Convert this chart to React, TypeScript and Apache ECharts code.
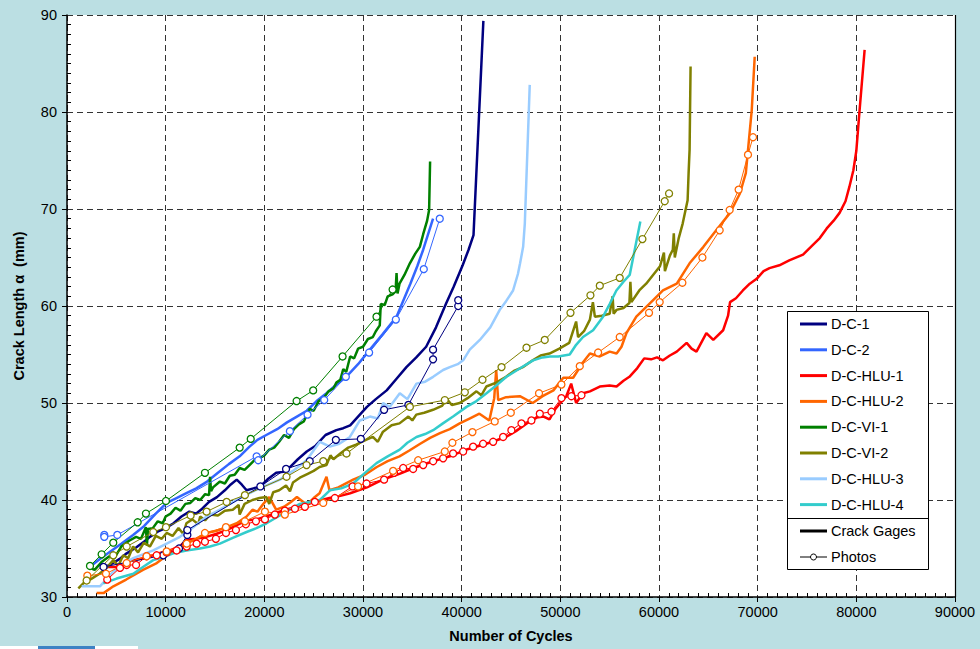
import React, { useEffect, useRef } from "react";
import * as echarts from "echarts";

// ---- Data (cycles, crack length mm) ----
const xTicks = [0, 10000, 20000, 30000, 40000, 50000, 60000, 70000, 80000, 90000];
const yTicks = [30, 40, 50, 60, 70, 80, 90];

const specimenNames = ["D-C-1", "D-C-2", "D-C-HLU-1", "D-C-HLU-2", "D-C-VI-1", "D-C-VI-2", "D-C-HLU-3", "D-C-HLU-4"];
const specimenColors = ["#000080", "#3366FF", "#FF0000", "#FF6600", "#008000", "#808000", "#99CCFF", "#33CCCC"];

const dc1Gage = [[3700,33.0],[4500,33.4],[5300,33.9],[6050,34.5],[7000,35.1],[7800,35.7],[8400,36.2],[9300,36.8],[10000,37.1],[10800,37.6],[11600,38.3],[12400,38.8],[13100,38.6],[13700,39.1],[14400,39.8],[15200,40.3],[16000,41.0],[16600,41.6],[17200,42.1],[17700,41.6],[18200,41.0],[18900,41.2],[19600,41.4],[20400,42.2],[21200,42.8],[21900,42.9],[22600,43.4],[23400,44.2],[24300,45.0],[25200,45.6],[26200,46.7],[27300,47.2],[28000,47.4],[28700,47.7],[29500,48.6],[30400,49.6],[31300,50.4],[32400,51.3],[33400,52.5],[34400,53.7],[35400,54.7],[36400,55.8],[37400,57.8],[38400,60.2],[39200,62.0],[40100,64.2],[40700,65.8],[41200,67.3],[42200,89.4]];
const dc1Photo = [[3700,33.1],[9760,34.3],[11350,35.0],[12200,36.4],[12200,36.9],[19600,41.4],[22200,43.2],[24600,44.0],[27250,46.2],[29780,46.3],[32140,49.3],[34600,49.8],[37100,54.5],[37100,55.5],[39650,60.0],[39650,60.6]];

const dc2Gage = [[2300,33.1],[3300,33.9],[4400,34.7],[5500,35.5],[6700,36.4],[7800,37.3],[9000,38.6],[10100,39.7],[11100,40.2],[12100,40.7],[13100,41.2],[14200,41.9],[15300,42.8],[16400,43.7],[17500,44.5],[18500,45.5],[19300,46.2],[20200,46.7],[21300,47.3],[22300,48.0],[23300,48.6],[24300,49.2],[25300,50.2],[26300,51.0],[27200,51.8],[28300,52.7],[29500,54.0],[30700,55.5],[32000,57.1],[33400,58.9],[34100,60.6],[34800,62.3],[35500,64.1],[36100,65.8],[36600,67.4],[37100,69.0]];
const dc2Photo = [[3780,36.4],[3780,36.2],[5100,36.4],[19220,44.5],[19380,44.1],[22590,47.1],[24380,48.8],[26070,50.3],[28260,52.7],[30620,55.2],[33330,58.6],[36160,63.8],[37780,69.0]];

const hlu1Gage = [[3700,33.1],[5000,33.1],[6700,33.8],[7700,34.0],[8700,34.3],[9600,34.6],[10400,34.8],[11400,35.2],[12100,35.9],[13100,36.0],[14100,36.2],[15100,36.5],[16200,36.9],[17200,37.4],[18200,37.9],[19200,38.0],[20200,38.3],[21200,38.7],[22200,39.0],[23200,39.3],[24300,39.7],[25400,39.9],[26600,40.2],[27600,40.4],[28700,40.7],[30400,41.3],[32000,42.1],[33700,42.7],[35400,43.4],[37100,44.0],[38800,44.5],[40500,45.2],[42500,45.8],[44500,46.5],[45500,47.1],[46600,47.9],[47600,48.5],[48300,48.6],[48900,48.3],[49500,49.4],[50000,50.0],[50600,50.7],[51100,52.0],[51600,50.0],[52300,51.0],[53000,51.2],[54000,51.7],[55000,51.8],[55700,51.7],[56400,52.3],[57000,52.7],[57800,53.6],[58500,54.6],[59200,54.5],[59800,54.7],[60400,54.4],[61100,54.9],[61800,55.3],[62800,56.2],[63300,55.6],[63800,55.3],[64800,57.2],[65500,56.5],[66500,57.5],[67000,59.0],[67200,60.4],[67800,60.8],[68500,61.6],[69200,62.3],[69900,62.8],[70600,63.6],[71200,63.9],[72200,64.2],[73200,64.7],[74600,65.3],[75600,66.3],[76300,67.0],[77000,68.0],[77700,68.8],[78300,69.6],[78900,70.8],[79300,72.3],[79700,74.0],[80000,76.0],[80330,80.2],[80840,86.4]];
const hlu1Photo = [[4080,31.8],[5370,33.0],[6050,33.3],[7000,33.3],[8070,34.2],[9090,34.3],[10100,34.6],[11110,34.8],[12130,35.2],[13140,35.5],[13980,35.7],[15090,36.0],[16110,36.6],[17120,36.9],[18130,37.5],[19150,37.8],[20060,38.0],[21070,38.5],[22080,38.9],[23100,39.1],[24110,39.3],[25120,39.8],[27150,40.2],[28940,41.4],[30360,41.7],[32140,42.1],[33150,42.8],[34070,43.3],[35080,43.2],[36100,43.6],[37110,44.0],[38120,44.3],[39130,44.8],[40150,45.0],[41160,45.5],[42170,45.8],[43190,46.0],[44200,46.5],[45040,47.2],[46060,47.9],[47070,48.2],[47920,48.9],[49100,49.1],[50110,50.5],[51120,50.7],[52140,50.8]];

const hlu2Gage = [[3000,30.4],[3700,30.4],[4700,31.1],[6000,31.8],[7700,32.8],[9100,33.5],[10400,34.5],[11300,34.8],[12100,35.5],[13100,36.0],[14100,36.6],[15100,36.8],[16200,37.2],[17200,37.6],[18200,38.3],[18800,39.0],[19300,38.8],[19900,39.6],[20500,40.3],[21200,39.0],[22000,39.3],[22700,39.8],[23300,40.3],[24300,39.5],[25000,40.2],[25600,40.7],[26300,42.4],[26600,41.0],[27500,41.3],[29000,42.1],[30200,42.6],[31400,43.4],[32500,44.0],[33700,44.5],[34700,45.1],[35800,45.8],[36800,46.4],[37800,46.9],[38800,47.3],[39800,47.9],[40800,48.4],[41800,48.9],[42800,48.2],[43300,50.5],[43500,53.4],[43700,50.3],[44500,50.6],[45900,50.7],[47200,50.0],[48200,50.7],[49300,51.3],[50300,52.6],[51300,52.6],[52300,54.2],[53000,55.1],[54000,54.8],[55000,55.3],[55700,55.1],[56200,55.8],[56700,57.2],[57700,58.9],[59100,60.3],[60400,61.6],[61800,62.3],[63100,64.4],[64500,66.1],[65800,67.8],[67200,69.6],[68200,71.6],[68800,73.7],[69400,80.2],[69700,85.7]];
const hlu2Photo = [[2060,32.2],[3950,32.4],[6050,33.5],[8070,34.2],[10100,34.7],[12130,35.5],[13980,36.6],[16110,37.2],[18030,37.8],[20060,38.8],[22080,38.5],[25970,39.7],[29500,41.4],[33050,43.0],[35590,44.1],[38290,45.0],[39060,45.9],[41090,47.0],[43350,48.1],[44980,49.0],[47840,51.0],[50110,51.9],[51970,53.8],[53830,55.2],[56020,56.8],[58990,59.3],[60070,60.4],[62370,62.4],[64400,65.0],[66150,67.8],[67160,69.9],[68070,72.0],[69020,75.6],[69530,77.4]];

const vi1Gage = [[2300,33.0],[2800,32.8],[3500,33.6],[4300,34.2],[4800,34.0],[5500,35.2],[6300,35.8],[7000,36.2],[7500,36.0],[8000,37.2],[8100,35.3],[8200,37.0],[8700,37.1],[9200,37.8],[9700,37.6],[10000,38.3],[10500,38.6],[11000,39.2],[11500,38.9],[12000,39.6],[12500,39.7],[13000,40.2],[13500,40.0],[14000,40.6],[14400,40.5],[14500,42.4],[14600,40.9],[14800,41.3],[15500,41.9],[16000,41.7],[16500,42.5],[17000,42.6],[17500,43.3],[18000,43.1],[18500,43.6],[19000,44.1],[19500,44.3],[20000,44.6],[20500,45.2],[21000,45.4],[21500,46.0],[22000,46.7],[22500,46.4],[23000,47.3],[23500,47.8],[24000,48.1],[24600,49.4],[25000,49.2],[25500,50.2],[26000,50.5],[26500,51.2],[27000,51.5],[27300,52.1],[27700,52.4],[28000,53.5],[28300,53.2],[28700,54.8],[29100,54.6],[29500,55.6],[30000,55.8],[30500,56.6],[31000,56.8],[31300,57.4],[31700,58.0],[31800,60.2],[32200,60.1],[32500,61.0],[33000,61.2],[33300,61.5],[33400,63.4],[33500,61.3],[33700,62.3],[34200,63.2],[34750,64.4],[35300,65.4],[35760,66.1],[36100,67.4],[36500,68.8],[36700,69.9],[36800,74.9]];
const vi1Photo = [[2330,33.2],[3510,34.4],[4690,35.6],[7160,37.7],[8000,38.6],[10030,39.9],[13980,42.8],[17500,45.4],[18620,46.3],[23270,50.2],[24950,51.3],[27930,54.8],[31370,58.9],[33000,61.7]];

const vi2Gage = [[1150,30.9],[1650,31.4],[2500,31.9],[3300,32.4],[4000,33.0],[4700,33.8],[5200,33.2],[5700,34.3],[6200,34.0],[6700,35.2],[7200,34.6],[7800,35.6],[8400,35.2],[9000,36.3],[9600,36.0],[10100,36.6],[10700,36.3],[11300,37.1],[11800,36.5],[12100,37.6],[12700,38.0],[13300,37.5],[13500,38.3],[14000,37.9],[14500,38.5],[15300,38.4],[16000,38.9],[16800,39.0],[17400,39.5],[17500,38.5],[18000,39.6],[18800,40.0],[19500,40.2],[20200,40.3],[20500,39.6],[20900,40.8],[21500,41.0],[22200,41.5],[22600,40.9],[22900,41.8],[23600,42.3],[24400,42.7],[25000,43.0],[25600,43.4],[26300,43.6],[26700,44.6],[27000,44.2],[27700,44.8],[28500,45.4],[29300,45.7],[30300,46.2],[31000,46.5],[31500,46.0],[32000,47.0],[32900,47.7],[33700,47.9],[34600,48.6],[35000,48.2],[35400,48.8],[36200,49.0],[37100,49.3],[38000,49.7],[38500,50.4],[39000,49.8],[39800,50.0],[40600,50.5],[41500,51.2],[42000,50.8],[42500,51.7],[43500,52.1],[44500,52.7],[45300,53.3],[46200,53.7],[47200,54.4],[48000,54.9],[48900,55.1],[49900,55.6],[50900,56.2],[51600,58.4],[51800,56.8],[52400,57.4],[53000,58.6],[53300,60.4],[53500,58.9],[54200,59.0],[55000,59.2],[55300,61.0],[55400,59.2],[55700,59.6],[56400,59.8],[57000,60.3],[57100,62.5],[57200,60.4],[58000,61.6],[58700,62.3],[59400,63.2],[60100,64.1],[60500,65.5],[60600,63.6],[61100,65.2],[61400,65.8],[61500,67.5],[61600,65.0],[62000,67.0],[62400,68.5],[62900,70.9],[63000,73.7],[63100,76.1],[63200,84.7]];
const vi2Photo = [[1990,31.7],[4690,34.3],[6050,35.2],[8740,36.7],[10030,37.2],[12530,38.4],[14150,38.8],[16180,39.8],[18030,40.5],[22250,42.4],[24280,43.6],[25970,44.0],[28330,44.8],[34750,49.6],[38290,50.3],[40320,51.1],[42110,52.4],[44040,53.7],[46570,55.7],[48420,56.5],[51030,59.3],[53050,61.1],[54000,62.1],[56020,62.9],[58320,66.9],[60580,70.8],[61020,71.6]];

const hlu3Gage = [[1490,31.1],[3340,31.1],[4670,32.6],[5700,33.4],[6720,34.0],[7700,34.4],[8740,34.8],[10100,35.5],[11450,36.2],[12800,37.2],[14150,38.3],[15500,39.0],[16850,39.8],[17900,40.4],[18870,40.9],[20200,41.5],[21580,42.1],[22900,43.0],[24280,44.1],[25630,46.0],[26640,45.5],[27600,45.8],[28670,46.5],[29680,48.2],[30700,48.6],[31500,48.4],[32040,50.0],[32700,49.6],[33730,51.0],[34500,50.4],[35420,52.0],[36300,52.2],[37110,52.7],[38120,53.4],[38800,53.7],[39600,54.0],[40150,54.4],[40820,55.5],[41840,56.5],[42900,57.8],[43860,59.6],[44500,60.5],[45210,61.6],[45700,63.3],[45920,64.4],[46230,66.1],[46400,68.5],[46900,82.8]];

const hlu4Gage = [[3680,31.4],[5030,31.9],[6720,32.4],[7700,33.1],[8740,33.8],[9700,34.1],[10770,34.5],[12100,34.8],[13470,35.0],[14500,35.2],[15500,35.5],[16800,36.1],[18200,36.7],[19200,37.1],[20230,37.6],[21400,38.3],[22590,39.0],[23600,39.6],[24600,39.8],[25630,40.0],[26640,41.0],[27800,41.2],[29000,41.7],[30200,42.8],[31370,43.8],[32500,44.5],[33730,45.2],[34500,45.9],[35420,46.5],[36300,46.8],[37110,47.2],[38100,47.9],[39130,48.6],[40490,49.6],[41500,50.2],[42520,51.0],[43500,51.8],[44540,52.7],[45800,53.5],[47240,54.4],[48200,54.7],[48930,54.8],[49800,54.8],[50950,55.0],[51600,56.0],[52300,56.8],[53320,57.5],[54330,58.9],[55000,60.2],[55680,61.6],[56400,62.5],[57030,63.2],[57540,65.8],[58110,68.7]];

const gageData = [dc1Gage, dc2Gage, hlu1Gage, hlu2Gage, vi1Gage, vi2Gage, hlu3Gage, hlu4Gage];
const photoData = [dc1Photo, dc2Photo, hlu1Photo, hlu2Photo, vi1Photo, vi2Photo, null, null];
const extraLegend = ["Crack Gages", "Photos"];

const FONT = "'Liberation Sans', Arial, Helvetica, sans-serif";

export default function App() {
  const ref = useRef<HTMLDivElement>(null);
  useEffect(() => {
    document.body.style.margin = "0";
    if (!ref.current) return;
    const chart = echarts.init(ref.current, undefined, { renderer: "svg" });

    const series: any[] = [];
    gageData.forEach((d, i) => {
      series.push({
        name: specimenNames[i],
        type: "line",
        data: d,
        showSymbol: false,
        symbol: "none",
        lineStyle: { color: specimenColors[i], width: 2.5 },
        itemStyle: { color: specimenColors[i] },
        z: 2,
      });
    });
    photoData.forEach((d, i) => {
      if (!d) return;
      series.push({
        name: specimenNames[i] + " Photos",
        type: "line",
        data: d,
        symbol: "circle",
        symbolSize: 7,
        showSymbol: true,
        lineStyle: { color: specimenColors[i], width: 1 },
        itemStyle: { color: "#ffffff", borderColor: specimenColors[i], borderWidth: 1.3 },
        z: 3,
      });
    });

    // legend graphic
    const lx = 787, ly = 311, lw = 141, lh = 258;
    const items: any[] = [
      { type: "rect", shape: { x: lx + 0.5, y: ly + 0.5, width: lw, height: lh }, style: { fill: "#fff", stroke: "#000", lineWidth: 1 }, z: 100 },
      { type: "line", shape: { x1: lx + 0.5, y1: 518.5, x2: lx + lw + 0.5, y2: 518.5 }, style: { stroke: "#000", lineWidth: 1 }, z: 101 },
    ];
    specimenNames.forEach((n, i) => {
      const yy = 324 + i * 25.8;
      items.push({ type: "line", shape: { x1: 800, y1: yy, x2: 827, y2: yy }, style: { stroke: specimenColors[i], lineWidth: 3 }, z: 101 });
      items.push({ type: "text", x: 831, y: yy, style: { text: n, fill: "#000", font: `14.5px ${FONT}`, verticalAlign: "middle" }, z: 101 });
    });
    items.push({ type: "line", shape: { x1: 800, y1: 531, x2: 827, y2: 531 }, style: { stroke: "#000", lineWidth: 3 }, z: 101 });
    items.push({ type: "text", x: 831, y: 531, style: { text: extraLegend[0], fill: "#000", font: `14.5px ${FONT}`, verticalAlign: "middle" }, z: 101 });
    items.push({ type: "line", shape: { x1: 800, y1: 557, x2: 827, y2: 557 }, style: { stroke: "#000", lineWidth: 1 }, z: 101 });
    items.push({ type: "circle", shape: { cx: 813.5, cy: 557, r: 3 }, style: { fill: "#fff", stroke: "#000", lineWidth: 1 }, z: 102 });
    items.push({ type: "text", x: 831, y: 557, style: { text: extraLegend[1], fill: "#000", font: `14.5px ${FONT}`, verticalAlign: "middle" }, z: 101 });
    // right border of plot
    items.push({ type: "line", shape: { x1: 955.5, y1: 15, x2: 955.5, y2: 597 }, style: { stroke: "#000", lineWidth: 1.2 }, z: 50 });
    // bottom-left strip
    items.push({ type: "rect", shape: { x: 0, y: 646, width: 138, height: 3 }, style: { fill: "#fff" }, z: 50 });
    items.push({ type: "rect", shape: { x: 38, y: 646, width: 57, height: 3 }, style: { fill: "#3d82c4" }, z: 51 });

    chart.setOption({
      animation: false,
      backgroundColor: "#bbdfe3",
      textStyle: { fontFamily: FONT },
      grid: { left: 67, right: 25, top: 15, bottom: 52, show: true, backgroundColor: "#ffffff", borderWidth: 0 },
      xAxis: {
        type: "value",
        min: xTicks[0],
        max: xTicks[xTicks.length - 1],
        interval: 10000,
        name: "Number of Cycles",
        nameLocation: "middle",
        nameGap: 31,
        nameTextStyle: { fontWeight: "bold", fontSize: 14.5, color: "#000", fontFamily: FONT },
        axisLine: { show: true, onZero: false, lineStyle: { color: "#000", width: 1.5 } },
        axisTick: { show: true, length: 5, lineStyle: { color: "#000" } },
        minorTick: { show: true, splitNumber: 10, length: -4, lineStyle: { color: "#000" } },
        axisLabel: { color: "#000", fontSize: 14.5, margin: 7, fontFamily: FONT, formatter: (v: number) => String(v) },
        splitLine: { show: true, lineStyle: { color: "#333", type: [6, 4], width: 1 } },
      },
      yAxis: {
        type: "value",
        min: yTicks[0],
        max: yTicks[yTicks.length - 1],
        interval: 10,
        name: "Crack Length α  (mm)",
        nameLocation: "middle",
        nameGap: 41,
        nameTextStyle: { fontWeight: "bold", fontSize: 14.5, color: "#000", fontFamily: FONT },
        axisLine: { show: true, onZero: false, lineStyle: { color: "#000", width: 1.5 } },
        axisTick: { show: true, length: 5, lineStyle: { color: "#000" } },
        minorTick: { show: true, splitNumber: 10, length: -4, lineStyle: { color: "#000" } },
        axisLabel: { color: "#000", fontSize: 14.5, margin: 10, fontFamily: FONT, formatter: (v: number) => String(v) },
        splitLine: { show: true, lineStyle: { color: "#333", type: [6, 4], width: 1 } },
      },
      series,
      graphic: items,
    });
    return () => chart.dispose();
  }, []);
  return <div ref={ref} style={{ width: 980, height: 649 }} />;
}
